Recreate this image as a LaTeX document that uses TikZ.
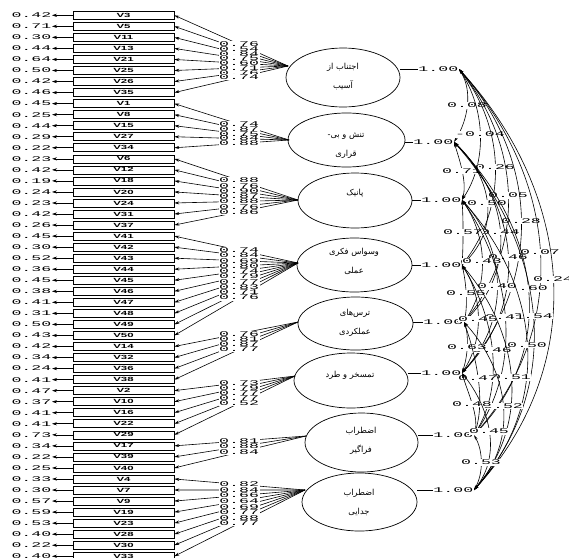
\documentclass[tikz,border=0pt]{standalone}
\usepackage{fontspec}
\usepackage{graphicx}
\usetikzlibrary{shapes.geometric,arrows.meta}
\TeXXeTstate=1
\newfontfamily\lisfont{Liberation Mono}
\newfontfamily\vfont{Liberation Sans}
\newfontfamily\farsi[Script=Arabic]{DejaVu Sans}
\newcommand\lnum[1]{\scalebox{2.3}[1]{\fontsize{7.2}{7.2}\selectfont\lisfont #1}}
\newcommand\vlab[1]{\scalebox{1.9}[1]{\fontsize{6}{6}\selectfont\vfont\bfseries #1}}
\newcommand\fa[1]{\farsi\beginR #1\endR}
\begin{document}
\begin{tikzpicture}[x=1pt,y=-1pt,
  obs/.style={draw, line width=0.6pt, minimum width=101pt, minimum height=8pt, inner sep=0pt},
  lat/.style={ellipse, draw, line width=0.7pt, inner sep=0pt},
  fatext/.style={align=center, font=\fontsize{8.3}{19}\selectfont\farsi, inner sep=0pt},
  num/.style={inner sep=0.6pt, fill=white},
  conn/.style={line width=0.6pt},
  loadarr/.style={conn, -{Stealth[length=5pt,width=3pt]}},
  errarr/.style={conn, {Stealth[length=5pt,width=3.2pt]}-},
  covarr/.style={conn, {Stealth[length=5pt,width=2.6pt]}-{Stealth[length=5pt,width=2.6pt]}}]
\useasboundingbox (0,0) rectangle (569,557);

% observed variables and error variances
\foreach \k/\n/\e in {1/V3/0.42, 2/V5/0.71, 3/V11/0.30, 4/V13/0.44, 5/V21/0.64, 6/V25/0.50, 7/V26/0.42, 8/V35/0.46,
  9/V1/0.45, 10/V8/0.25, 11/V15/0.44, 12/V27/0.29, 13/V34/0.22,
  14/V6/0.23, 15/V12/0.42, 16/V18/0.19, 17/V20/0.24, 18/V24/0.23, 19/V31/0.42, 20/V37/0.26,
  21/V41/0.45, 22/V42/0.30, 23/V43/0.52, 24/V44/0.36, 25/V45/0.45, 26/V46/0.38, 27/V47/0.41, 28/V48/0.31, 29/V49/0.50, 30/V50/0.43,
  31/V14/0.42, 32/V32/0.34, 33/V36/0.24, 34/V38/0.41,
  35/V2/0.47, 36/V10/0.37, 37/V16/0.41, 38/V22/0.41, 39/V29/0.73,
  40/V17/0.34, 41/V39/0.22, 42/V40/0.25,
  43/V4/0.33, 44/V7/0.30, 45/V9/0.57, 46/V19/0.59, 47/V23/0.53, 48/V28/0.40, 49/V30/0.22, 50/V33/0.40} {
  \pgfmathsetmacro\yy{15.3+(\k-1)*11.04}
  \node[obs] (v\k) at (123.5,\yy) {\vlab{\n}};
  \node[anchor=east, inner sep=0.5pt] (e\k) at (52,\yy) {\lnum{\e}};
  \draw[errarr] (e\k.east) -- (v\k.west);
}

% latent variables
\node[lat, minimum width=114pt, minimum height=59pt] (f1) at (343,77.5) {};
\node[lat, minimum width=117pt, minimum height=54pt] (f2) at (346.5,140) {};
\node[lat, minimum width=114pt, minimum height=55pt] (f3) at (355,200.5) {};
\node[lat, minimum width=115pt, minimum height=54pt] (f4) at (354.5,265) {};
\node[lat, minimum width=115pt, minimum height=53pt] (f5) at (355.5,323.5) {};
\node[lat, minimum width=114pt, minimum height=55pt] (f6) at (351,380.5) {};
\node[lat, minimum width=113pt, minimum height=59pt] (f7) at (361.5,442.5) {};
\node[lat, minimum width=115pt, minimum height=58pt] (f8) at (359.5,502) {};

\node[fatext] (t1) at (343,77) {\fa{اجتناب از}\\\fa{آسیب}};
\node[fatext] (t2) at (346,145.5) {\fa{تنش و بی-}\\\fa{قراری}};
\node[fatext] (t3) at (355,193) {\fa{پانیک}};
\node[fatext] (t4) at (354,261) {\fa{وسواس فکری}\\\fa{عملی}};
\node[fatext] (t5) at (355,322.5) {\fa{ترس‌های}\\\fa{عملکردی}};
\node[fatext] (t6) at (350,375) {\fa{تمسخر و طرد}};
\node[fatext] (t7) at (361,441) {\fa{اضطراب}\\\fa{فراگیر}};
\node[fatext] (t8) at (359,502) {\fa{اضطراب}\\\fa{جدایی}};

% variances
\foreach \i/\x/\y in {1/459/69, 2/454/142, 3/462/200, 4/462/265, 5/464/322, 6/462/373, 7/474/435, 8/474/490} {
  \node[num, anchor=east] (var\i) at (\x,\y) {\lnum{1.00}};
  \draw[conn] (f\i.east |- var\i.west) -- (var\i.west);
}

% attach points of loadings
\coordinate (a1) at (288,66);
\coordinate (a2) at (289,140);
\coordinate (a3) at (298,200);
\coordinate (a4) at (298,263);
\coordinate (a5) at (298,322);
\coordinate (a6) at (295,376);
\coordinate (a7) at (306,436);
\coordinate (a8) at (305,490);

\newcommand\grp[3]{%
  \foreach \k/\l in {#3} {\draw[loadarr] (#1) -- (v\k.east);}
  \foreach \k/\l in {#3} {\path (#1) -- node[num, pos=#2] {\lnum{\l}} (v\k.east);}
}
\grp{a1}{0.430}{1/0.76, 2/0.54, 3/0.84, 4/0.75, 5/0.60, 6/0.71, 7/0.76, 8/0.74}
\grp{a2}{0.435}{9/0.74, 10/0.87, 11/0.75, 12/0.84, 13/0.88}
\grp{a3}{0.476}{14/0.88, 15/0.76, 16/0.90, 17/0.87, 18/0.88, 19/0.76, 20/0.86}
\grp{a4}{0.476}{21/0.74, 22/0.84, 23/0.69, 24/0.80, 25/0.74, 26/0.79, 27/0.77, 28/0.83, 29/0.71, 30/0.76}
\grp{a5}{0.476}{31/0.76, 32/0.81, 33/0.87, 34/0.77}
\grp{a6}{0.463}{35/0.73, 36/0.79, 37/0.77, 38/0.77, 39/0.52}
\grp{a7}{0.508}{40/0.81, 41/0.88, 42/0.84}
\grp{a8}{0.504}{43/0.82, 44/0.84, 45/0.66, 46/0.64, 47/0.69, 48/0.77, 49/0.88, 50/0.77}

% covariances
\def\vy{{0,69,142,200,265,322,373,435,490}}
\def\vx{{0,459,454,462,462,464,462,474,474}}
\foreach \i/\j/\X/\c in {1/2/467/0.08, 1/3/480/-0.04, 1/4/495/0.26, 1/5/508/0.05, 1/6/521/0.28, 1/7/540/0.07, 1/8/553/0.24,
  2/3/462/0.71, 2/4/487/0.50, 2/5/500/0.44, 2/6/508/0.46, 2/7/528/0.60, 2/8/533/0.54,
  3/4/463/0.57, 3/5/482/0.43, 3/6/497/0.40, 3/7/505/0.41, 3/8/527/0.50,
  4/5/466/0.55, 4/6/478/0.45, 4/7/492/0.46, 4/8/511/0.51,
  5/6/467/0.63, 5/7/478/0.47, 5/8/503/0.52,
  6/7/472/0.48, 6/8/489/0.45,
  7/8/481/0.53} {
  \pgfmathsetmacro\hh{0.3*(\vy[\j]-\vy[\i])}
  \pgfmathsetmacro\ww{(\X-(\vx[\i]+\vx[\j])/2)/0.75}
  \draw[covarr] (var\i.east) .. controls +(\ww,\hh) and +(\ww,-\hh) .. node[num, pos=0.5] {\lnum{\c}} (var\j.east);
}
\end{tikzpicture}
\end{document}
